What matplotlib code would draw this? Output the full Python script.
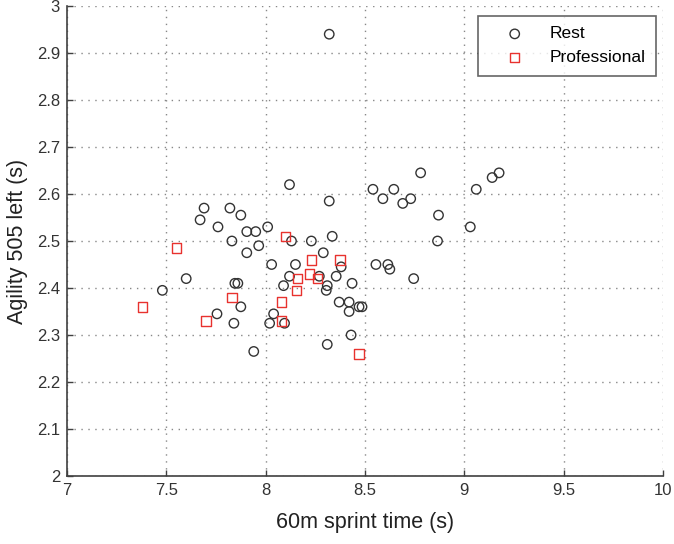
import matplotlib
matplotlib.use("Agg")
import matplotlib.pyplot as plt

rest_x = [8.32, 8.12, 7.69, 7.82, 7.67, 7.875, 7.76, 7.905, 7.95, 8.01, 7.83, 7.965, 7.905, 8.13,
          8.03, 8.15, 7.60, 7.48, 7.845, 7.86, 8.09, 8.54, 8.59, 8.645, 8.32, 8.23, 8.335, 8.29,
          8.12, 8.27, 8.355, 8.38, 8.435, 8.31, 8.305, 8.555, 8.615, 8.625, 8.78, 9.175, 9.14,
          9.06, 8.73, 8.69, 8.87, 9.03, 8.865, 8.745, 7.875, 7.755, 7.84, 8.04, 8.02, 8.095,
          7.94, 8.37, 8.42, 8.42, 8.47, 8.485, 8.43, 8.31]
rest_y = [2.94, 2.62, 2.57, 2.57, 2.545, 2.555, 2.53, 2.52, 2.52, 2.53, 2.50, 2.49, 2.475, 2.50,
          2.45, 2.45, 2.42, 2.395, 2.41, 2.41, 2.405, 2.61, 2.59, 2.61, 2.585, 2.50, 2.51, 2.475,
          2.425, 2.425, 2.425, 2.445, 2.41, 2.405, 2.395, 2.45, 2.45, 2.44, 2.645, 2.645, 2.635,
          2.61, 2.59, 2.58, 2.555, 2.53, 2.50, 2.42, 2.36, 2.345, 2.325, 2.345, 2.325, 2.325,
          2.265, 2.37, 2.37, 2.35, 2.36, 2.36, 2.30, 2.28]

pro_x = [7.38, 7.55, 7.70, 7.83, 8.08, 8.08, 8.10, 8.155, 8.16, 8.22, 8.23, 8.26, 8.375, 8.47]
pro_y = [2.36, 2.485, 2.33, 2.38, 2.37, 2.33, 2.51, 2.395, 2.42, 2.43, 2.46, 2.42, 2.46, 2.26]

xticks = [7, 7.5, 8, 8.5, 9, 9.5, 10]
xticklabels = ["7", "7.5", "8", "8.5", "9", "9.5", "10"]
yticks = [2, 2.1, 2.2, 2.3, 2.4, 2.5, 2.6, 2.7, 2.8, 2.9, 3]
yticklabels = ["2", "2.1", "2.2", "2.3", "2.4", "2.5", "2.6", "2.7", "2.8", "2.9", "3"]

plt.rcParams['font.family'] = ['Liberation Sans', 'DejaVu Sans']

fig = plt.figure(figsize=(6.74, 5.44), dpi=100)
ax = fig.add_axes([67/674, (544-476)/544, (663-67)/674, (476-6)/544])

ax.scatter(rest_x, rest_y, s=46, marker='o', facecolors='none', edgecolors='#333333',
           linewidths=1.0, label='Rest', zorder=3)
ax.scatter(pro_x, pro_y, s=46, marker='s', facecolors='none', edgecolors='#e8322e',
           linewidths=1.0, label='Professional', zorder=3)

ax.set_xlim(7, 10)
ax.set_ylim(2, 3)
ax.set_xticks(xticks)
ax.set_xticklabels(xticklabels)
ax.set_yticks(yticks)
ax.set_yticklabels(yticklabels)
ax.grid(True, linestyle=(0, (1, 4)), color='#888888', linewidth=1.0)
ax.set_axisbelow(True)

for side in ['top', 'right']:
    ax.spines[side].set_visible(False)
for side in ['left', 'bottom']:
    ax.spines[side].set_color('#404040')
    ax.spines[side].set_linewidth(1.2)

ax.tick_params(direction='in', length=4, width=1, colors='#404040', labelcolor='#333333',
               labelsize=12)
ax.tick_params(axis='x', pad=5)
ax.tick_params(axis='y', pad=5)

ax.set_xlabel('60m sprint time (s)', fontsize=15.5, color='#222222', labelpad=10)
ax.set_ylabel('Agility 505 left (s)', fontsize=15.5, color='#222222', labelpad=6)

leg = ax.legend(loc='upper right', bbox_to_anchor=(0.988, 0.979), frameon=True, fancybox=False,
                edgecolor='#404040', fontsize=12.5, handletextpad=0.5, handlelength=3.0,
                borderpad=0.6, labelspacing=0.5, borderaxespad=0)
leg.get_frame().set_linewidth(1.2)

fig.savefig('out.png', dpi=100)
